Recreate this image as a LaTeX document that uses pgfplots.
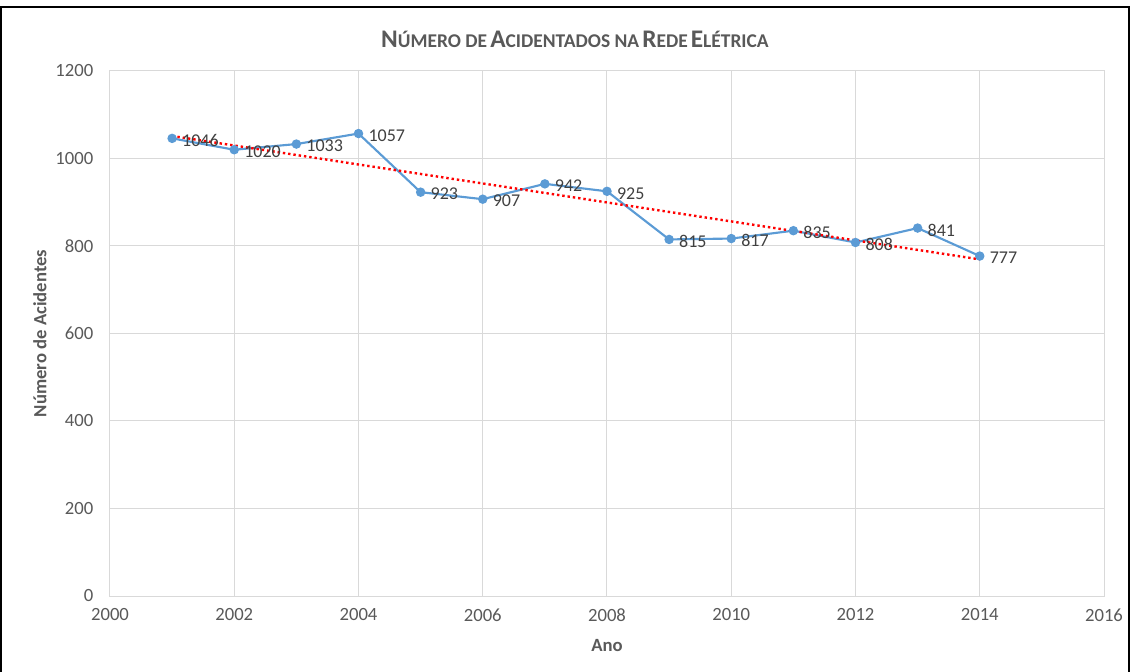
\documentclass[border=0pt]{standalone}
\usepackage{fontspec}
\setmainfont{Carlito}
\usepackage{pgfplots}
\pgfplotsset{compat=1.18}
\definecolor{tickgray}{HTML}{595959}
\definecolor{labgray}{HTML}{404040}
\definecolor{gridgray}{HTML}{D9D9D9}
\definecolor{serblue}{HTML}{5B9BD5}
\pgfkeys{/pgf/number format/.cd, assume math mode=true, 1000 sep={}}
\newcommand{\BC}[1]{{\fontsize{19}{22}\selectfont #1}}
\newcommand{\SC}[1]{{\fontsize{14.6}{17}\selectfont #1}}
\begin{document}
\begin{tikzpicture}
\useasboundingbox (-82.5pt,-56.25pt) rectangle (765.75pt,447pt);
\begin{axis}[
  at={(0pt,0pt)}, anchor=south west,
  scale only axis, width=745.5pt, height=393.75pt,
  xmin=2000, xmax=2016, ymin=0, ymax=1200,
  xtick={2000,2002,...,2016}, ytick={0,200,...,1200},
  grid=major,
  major grid style={draw=gridgray, line width=0.75pt},
  axis line style={draw=gridgray, line width=0.75pt},
  major tick length=0pt,
  ticklabel style={font=\fontsize{14}{16}\selectfont, text=tickgray},
  xticklabel style={yshift=-6pt},
  yticklabel style={xshift=-9pt},
  xlabel={Ano}, ylabel={Número de Acidentes},
  every axis x label/.style={at={(axis description cs:0.5,0)}, yshift=-37.5pt, anchor=center,
    font=\bfseries\fontsize{14}{16}\selectfont, text=tickgray},
  every axis y label/.style={at={(axis description cs:0,0.5)}, xshift=-52.5pt, rotate=90, anchor=center,
    font=\bfseries\fontsize{14}{16}\selectfont, text=tickgray},
  clip=false,
]
\addplot[serblue, line width=1.6pt, mark=*, mark size=2.7pt, mark options={fill=serblue, draw=serblue}]
  coordinates {(2001,1046) (2002,1020) (2003,1033) (2004,1057) (2005,923) (2006,907) (2007,942)
               (2008,925) (2009,815) (2010,817) (2011,835) (2012,808) (2013,841) (2014,777)};
\addplot[red, line width=1.8pt, dash pattern=on 1.8pt off 2.2pt]
  coordinates {(2001,1051.4) (2014,769.4)};
\addplot[draw=none, mark=none, nodes near coords, point meta=y,
  every node near coord/.append style={anchor=west, xshift=4pt, yshift=-1.5pt,
    font=\fontsize{13.5}{16}\selectfont, text=labgray}]
  coordinates {(2001,1046) (2002,1020) (2003,1033) (2004,1057) (2005,923) (2006,907) (2007,942)
               (2008,925) (2009,815) (2010,817) (2011,835) (2012,808) (2013,841) (2014,777)};
\end{axis}
\node[text=tickgray, font=\bfseries] at (348.75pt,417.75pt)
  {\BC{N}\SC{ÚMERO DE} \BC{A}\SC{CIDENTADOS NA} \BC{R}\SC{EDE} \BC{E}\SC{LÉTRICA}};
\draw[black, line width=1.5pt] (-81.5pt,-60pt) -- (-81.5pt,441.5pt) -- (764.25pt,441.5pt) -- (764.25pt,-60pt);
\end{tikzpicture}
\end{document}
